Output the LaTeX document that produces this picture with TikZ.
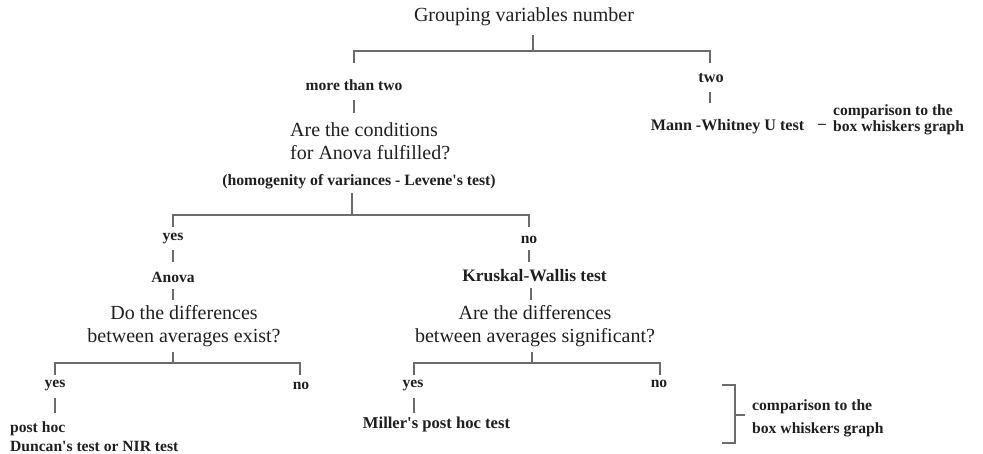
\documentclass[tikz,border=0pt]{standalone}
\usepackage{fontspec}
\setmainfont{Liberation Serif}[Ligatures=TeXOff]
\begin{document}
\begin{tikzpicture}[x=1pt,y=-1pt,
  big/.style={inner sep=0pt, text=black!88, font=\fontsize{20}{23}\selectfont},
  lab/.style={inner sep=0pt, text=black!88, font=\fontsize{15.6}{19}\selectfont\bfseries},
  conn/.style={draw=black!58, line width=1.3pt}]
\useasboundingbox (0,0) rectangle (983,454);
% nodes
\node[big] (title) at (524,17) {Grouping variables number};
\node[lab] (more) at (354,85) {more than two};
\node[lab, font=\fontsize{16.3}{19}\selectfont\bfseries] (two) at (711,78) {two};
\node[big, align=left, anchor=west] (q1) at (290,141.5) {Are the conditions\\for Anova fulfilled?};
\node[lab, font=\fontsize{15.75}{19}\selectfont\bfseries] (homo) at (359,182) {(homogenity of variances - Levene's test)};
\node[lab, font=\fontsize{16.1}{19}\selectfont\bfseries] (mann) at (727.5,127) {Mann -Whitney U test};
\node[lab] (dash) at (822,126) {–};
\node[lab, align=left, anchor=west, font=\fontsize{15.6}{16.6}\selectfont\bfseries] (cmp1) at (833,120) {comparison to the\\box whiskers graph};
\node[lab] (yes1) at (173,239) {yes};
\node[lab] (no1) at (529,240) {no};
\node[lab] (anova) at (173,277) {Anova};
\node[lab, font=\fontsize{17.5}{19}\selectfont\bfseries] (kw) at (534.5,276) {Kruskal-Wallis test};
\node[big, align=center] (q2) at (184,326) {Do the differences\\between averages exist?};
\node[big, align=center] (q3) at (535,326.5) {Are the differences\\between averages significant?};
\node[lab] (yes2) at (55,386) {yes};
\node[lab] (no2) at (301,386) {no};
\node[lab] (yes3) at (413,386) {yes};
\node[lab] (no3) at (659,384) {no};
\node[lab, align=left, anchor=west] (duncan) at (10,436.5) {post hoc\\Duncan's test or NIR test};
\node[lab, font=\fontsize{16.6}{19}\selectfont\bfseries] (miller) at (436.5,425) {Miller's post hoc test};
\node[lab, align=left, anchor=west, font=\fontsize{15.65}{23}\selectfont\bfseries] (cmp2) at (752,418.5) {comparison to the\\box whiskers graph};
% junction coordinates
\coordinate (tB) at (533,35); \coordinate (tJ) at (533,51);
\coordinate (mT) at (354,63); \coordinate (mJ) at (354,51);
\coordinate (wT) at (710,63); \coordinate (wJ) at (710,51);
\coordinate (mB) at (354,100); \coordinate (q1T) at (354,113);
\coordinate (wB) at (710,92); \coordinate (mnT) at (710,103);
\coordinate (hB) at (352,193); \coordinate (hJ) at (352,215);
\coordinate (y1J) at (173,215); \coordinate (y1T) at (173,227);
\coordinate (n1J) at (529,215); \coordinate (n1T) at (529,227);
\coordinate (y1B) at (173,250); \coordinate (aT) at (173,262);
\coordinate (n1B) at (529,250); \coordinate (kT) at (529,262);
\coordinate (aB) at (173,289); \coordinate (q2T) at (173,300);
\coordinate (kB) at (531,288); \coordinate (q3T) at (531,300);
\coordinate (q2B) at (173,352); \coordinate (q2J) at (173,363);
\coordinate (q3B) at (532,352); \coordinate (q3J) at (532,363);
\coordinate (y2J) at (55,363); \coordinate (y2T) at (55,375);
\coordinate (n2J) at (300,363); \coordinate (n2T) at (300,375);
\coordinate (y3J) at (414,363); \coordinate (y3T) at (414,375);
\coordinate (n3J) at (660,363); \coordinate (n3T) at (660,375);
\coordinate (y2B) at (55,398); \coordinate (dT) at (55,413);
\coordinate (y3B) at (414,398); \coordinate (mlT) at (414,413);
\coordinate (brT) at (722,385); \coordinate (brTR) at (735,385);
\coordinate (brB) at (722,443); \coordinate (brBR) at (735,443);
\coordinate (brM) at (735,415); \coordinate (brMR) at (745,415);
% connectors
\draw[conn] (tB) -- (tJ);
\draw[conn] (mT) -- (mJ) -- (wJ) -- (wT);
\draw[conn] (mB) -- (q1T);
\draw[conn] (wB) -- (mnT);
\draw[conn] (hB) -- (hJ);
\draw[conn] (y1T) -- (y1J) -- (n1J) -- (n1T);
\draw[conn] (y1B) -- (aT);
\draw[conn] (n1B) -- (kT);
\draw[conn] (aB) -- (q2T);
\draw[conn] (kB) -- (q3T);
\draw[conn] (q2B) -- (q2J);
\draw[conn] (q3B) -- (q3J);
\draw[conn] (y2T) -- (y2J) -- (n2J) -- (n2T);
\draw[conn] (y3T) -- (y3J) -- (n3J) -- (n3T);
\draw[conn] (y2B) -- (dT);
\draw[conn] (y3B) -- (mlT);
\draw[conn] (brT) -- (brTR) -- (brBR) -- (brB);
\draw[conn] (brM) -- (brMR);
\end{tikzpicture}
\end{document}
